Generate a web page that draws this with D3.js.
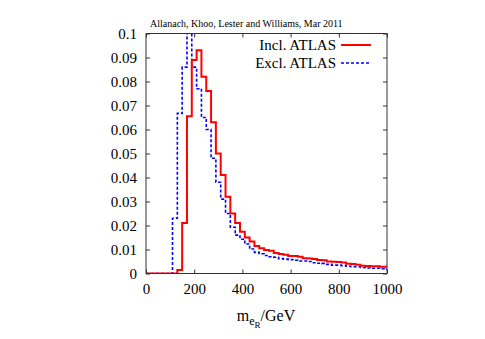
<!DOCTYPE html>
<html>
<head>
<meta charset="utf-8">
<script src="https://cdn.jsdelivr.net/npm/d3@7/dist/d3.min.js"></script>
<style>
  body { margin: 0; background: #fff; }
  svg text { font-family: "Liberation Serif", "DejaVu Serif", serif; fill: #000; }
</style>
</head>
<body>
<div id="chart"></div>
<script>
/* DATA */
// bin centres in GeV (histeps: each bin spans centre +/- 10 GeV)
const binCentres = d3.range(0, 1001, 20);

// Incl. ATLAS (red, solid)
const inclValues = [
  0, 0, 0, 0, 0, 0, 0, 0.0015, 0.021, 0.0655,
  0.089, 0.093, 0.082, 0.076, 0.063, 0.050, 0.041, 0.032, 0.025, 0.021,
  0.0174, 0.015, 0.0133, 0.0115, 0.0105, 0.0098, 0.0095, 0.0085, 0.0081, 0.0078,
  0.0073, 0.0073, 0.0070, 0.0064, 0.0062, 0.0060, 0.0056, 0.0055, 0.0050, 0.0049,
  0.0048, 0.0046, 0.0041, 0.0040, 0.0036, 0.0032, 0.0031, 0.0030, 0.0030, 0.0028,
  0.0028
];

// Excl. ATLAS (blue, dashed)
const exclValues = [
  0, 0, 0, 0, 0, 0, 0.023, 0.0667, 0.086, 0.104,
  0.086, 0.077, 0.065, 0.060, 0.048, 0.038, 0.031, 0.025, 0.0193, 0.016,
  0.0143, 0.0123, 0.0102, 0.0088, 0.0082, 0.0075, 0.0070, 0.0068, 0.0062, 0.0060,
  0.0058, 0.0055, 0.0052, 0.0052, 0.0050, 0.0045, 0.0043, 0.0042, 0.0038, 0.0035,
  0.0035, 0.0033, 0.0030, 0.0028, 0.0028, 0.0025, 0.0023, 0.0022, 0.0022, 0.0020,
  0.0018
];

const xTicks = [0, 200, 400, 600, 800, 1000];
const yTicks = [0, 0.01, 0.02, 0.03, 0.04, 0.05, 0.06, 0.07, 0.08, 0.09, 0.1];
const yTickLabels = ["0", "0.01", "0.02", "0.03", "0.04", "0.05", "0.06", "0.07", "0.08", "0.09", "0.1"];

const seriesNames = ["Incl. ATLAS", "Excl. ATLAS"];
const titleText = "Allanach, Khoo, Lester and Williams, Mar 2011";

/* LAYOUT */
const width = 485, height = 339;
const plot = { left: 146, right: 387, top: 33.5, bottom: 273.5 };
const binHalf = 10;

const svg = d3.select("#chart").append("svg")
  .attr("width", width)
  .attr("height", height);

const xScale = d3.scaleLinear().domain([0, 1000]).range([plot.left, plot.right]);
const yScale = d3.scaleLinear().domain([0, 0.1]).range([plot.bottom, plot.top]);

// clip so the tall bin gets cut at the frame, like gnuplot does
svg.append("clipPath").attr("id", "plotclip")
  .append("rect")
  .attr("x", plot.left).attr("y", plot.top)
  .attr("width", plot.right - plot.left)
  .attr("height", plot.bottom - plot.top);

// turn bin values into step points
function stepPoints(values) {
  const pts = [];
  values.forEach((v, i) => {
    const lo = Math.max(0, binCentres[i] - binHalf);
    const hi = Math.min(1000, binCentres[i] + binHalf);
    pts.push([lo, v], [hi, v]);
  });
  return pts;
}

const line = d3.line()
  .x(d => xScale(d[0]))
  .y(d => yScale(d[1]));

const curves = svg.append("g").attr("clip-path", "url(#plotclip)");

curves.append("path")
  .attr("d", line(stepPoints(exclValues)))
  .attr("fill", "none")
  .attr("stroke", "#0000ff")
  .attr("stroke-width", 1.6)
  .attr("stroke-dasharray", "3,2");

curves.append("path")
  .attr("d", line(stepPoints(inclValues)))
  .attr("fill", "none")
  .attr("stroke", "#ff0000")
  .attr("stroke-width", 2);

/* AXES (ticks pointing inward, mirrored) */
const tickLen = 4;

const xAxis = svg.append("g")
  .attr("transform", `translate(0, ${plot.bottom})`)
  .call(d3.axisBottom(xScale).tickValues(xTicks).tickSize(-tickLen).tickPadding(10).tickFormat(d3.format("d")));

const xAxisTop = svg.append("g")
  .attr("transform", `translate(0, ${plot.top})`)
  .call(d3.axisTop(xScale).tickValues(xTicks).tickSize(-tickLen).tickFormat(""));

const yAxis = svg.append("g")
  .attr("transform", `translate(${plot.left}, 0)`)
  .call(d3.axisLeft(yScale).tickValues(yTicks).tickSize(-tickLen).tickPadding(9)
    .tickFormat((d, i) => yTickLabels[i]));

const yAxisRight = svg.append("g")
  .attr("transform", `translate(${plot.right}, 0)`)
  .call(d3.axisRight(yScale).tickValues(yTicks).tickSize(-tickLen).tickFormat(""));

[xAxis, xAxisTop, yAxis, yAxisRight].forEach(g => {
  g.select(".domain").remove();
  g.selectAll(".tick line").attr("stroke", "#333");
  g.selectAll(".tick text")
    .attr("font-family", "Liberation Serif, DejaVu Serif, serif")
    .attr("font-size", 15)
    .attr("fill", "#000");
});

// frame
svg.append("rect")
  .attr("x", plot.left).attr("y", plot.top)
  .attr("width", plot.right - plot.left)
  .attr("height", plot.bottom - plot.top)
  .attr("fill", "none")
  .attr("stroke", "#333")
  .attr("stroke-width", 1);

/* TITLE */
svg.append("text")
  .attr("x", 150)
  .attr("y", 27)
  .attr("font-size", 10)
  .text(titleText);

/* LEGEND */
const legend = svg.append("g");
const legendRows = [
  { name: seriesNames[0], color: "#ff0000", dash: null, w: 2 },
  { name: seriesNames[1], color: "#0000ff", dash: "3,2", w: 1.6 }
];
legendRows.forEach((r, i) => {
  const y = 45 + i * 18;
  legend.append("text")
    .attr("x", 336)
    .attr("y", y)
    .attr("dy", "0.33em")
    .attr("text-anchor", "end")
    .attr("font-size", 15)
    .text(r.name);
  legend.append("line")
    .attr("x1", 341).attr("x2", 371)
    .attr("y1", y).attr("y2", y)
    .attr("stroke", r.color)
    .attr("stroke-width", r.w)
    .attr("stroke-dasharray", r.dash);
});

/* X LABEL: m_{e_R}/GeV */
const xLabel = svg.append("text")
  .attr("x", 266)
  .attr("y", 321)
  .attr("text-anchor", "middle")
  .attr("font-size", 16);
xLabel.append("tspan").text("m");
xLabel.append("tspan").attr("dy", 4).attr("font-size", 12).text("e");
xLabel.append("tspan").attr("dy", 3).attr("font-size", 9).text("R");
xLabel.append("tspan").attr("dy", -7).attr("font-size", 16).text("/GeV");
</script>
</body>
</html>
